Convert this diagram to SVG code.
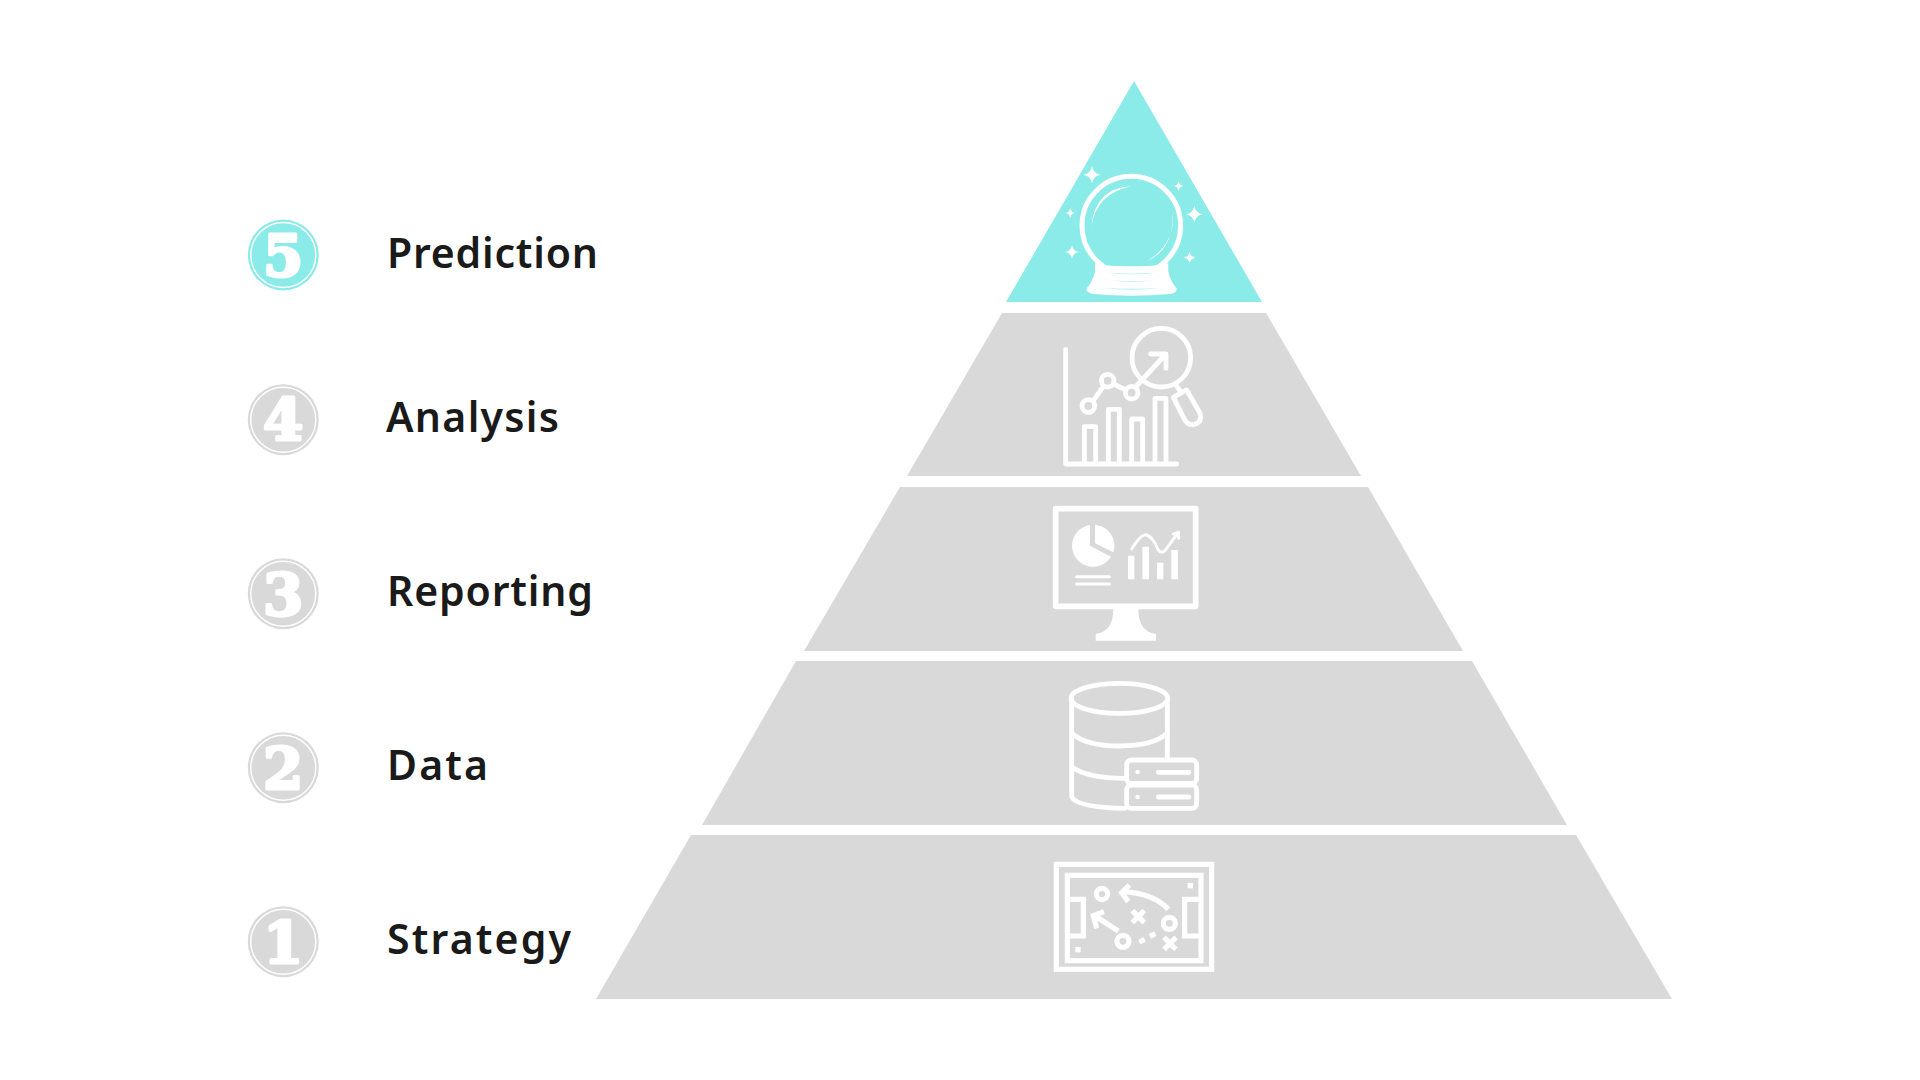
<svg xmlns="http://www.w3.org/2000/svg" width="1920" height="1080" viewBox="0 0 1920 1080">
<style>
.gray{fill:#d9d9d9}
.teal{fill:#8aebe8}
.label{font-family:"Noto Sans","Open Sans",sans-serif;font-weight:600;font-size:41px;fill:#1a1a1a}
.digit{font-family:"DejaVu Serif",serif;font-weight:700;font-size:58px;fill:#fff;stroke:#fff;stroke-width:3;stroke-linejoin:round;text-anchor:middle}
.ring{fill:none;stroke:#fff;stroke-width:1.4}
.ln{fill:none;stroke:#fff;stroke-linecap:round;stroke-linejoin:round}
.sq{fill:none;stroke:#fff;stroke-linejoin:miter}
.w{fill:#fff}
</style>
<defs>
<path id="star" d="M0-1Q.14-.14 1 0Q.14.14 0 1Q-.14.14-1 0Q-.14-.14 0-1Z" fill="#fff"/>
</defs>
<rect width="1920" height="1080" fill="#fff"/>

<g id="layer5">
<polygon class="teal" points="1134,81 1262,302 1006,302"/>
<g transform="translate(980 60) scale(.3333)">
<circle cx="454" cy="497" r="148" fill="none" stroke="#fff" stroke-width="15"/>
<path class="w" d="M345 610Q375 620 455 619Q535 620 565 610V635Q572 665 590 685Q592 700 570 702Q455 712 340 702Q316 698 320 685Q338 665 345 635Z"/>
<path class="teal" d="M380 638Q455 644 530 638Q455 648 380 638ZM385 660Q455 667 525 660Q455 670 385 660ZM365 683Q455 690 545 683Q455 694 365 683Z"/>
<path class="w" d="M453 379Q345 385 334 500Q350 400 453 379ZM577 455Q590 550 498 606Q585 565 577 455Z"/>
<use href="#star" transform="translate(336 344) scale(26)"/>
<use href="#star" transform="translate(596 378) scale(15)"/>
<use href="#star" transform="translate(271 459) scale(15)"/>
<use href="#star" transform="translate(643 463) scale(26)"/>
<use href="#star" transform="translate(276 576) scale(21)"/>
<use href="#star" transform="translate(629 593) scale(17)"/>
</g>
</g>

<g id="layer4">
<polygon class="gray" points="1002,313 1266,313 1361,476 907,476"/>
<g transform="translate(1030 310) scale(.3333)">
<g class="ln" stroke-width="14.5">
<path d="M107 118V462H440M163 455V350H197V455M235 455V298H268V455M305 455V327H338V455M375 455V265H408V455"/>
<circle cx="175" cy="288" r="19"/><circle cx="233" cy="212" r="19"/><circle cx="305" cy="248" r="19"/>
<path d="M190 272L218 232M250 222L288 240M322 225L405 135M362 132H408V175M440 228L452 245"/>
<circle cx="394" cy="143" r="88"/>
<path d="M430 262L470 240L510 310Q518 335 495 343Q475 350 462 325Z"/>
</g>
</g>
</g>

<g id="layer3">
<polygon class="gray" points="900,487 1368,487 1463,651 804,651"/>
<g transform="translate(1030 495) scale(.3333)">
<rect x="77" y="41" width="420" height="293" fill="none" stroke="#fff" stroke-width="17" stroke-linejoin="round"/>
<path class="w" d="M250 342Q250 410 197 417V437H378V417Q325 410 325 342Z"/>
<path class="w" d="M180 90A63 63 0 1 0 243 185L180 152ZM195 89A63 63 0 0 1 250 172L195 145Z"/>
<path class="ln" stroke-width="9" d="M140 245H238M140 267H238M305 162Q335 115 350 120Q368 125 385 165Q397 180 410 160L445 112M430 117L446 112V130"/>
<path class="w" d="M294 182H313V253H294ZM337 155H357V253H337ZM381 203H400V253H381ZM424 165H444V253H424Z"/>
</g>
</g>

<g id="layer2">
<polygon class="gray" points="796,661 1472,661 1567,825 702,825"/>
<g transform="translate(1040 670) scale(.3333)">
<g class="ln" stroke-width="14.5">
<ellipse cx="238" cy="85" rx="145" ry="45"/>
<path d="M95 85V380Q110 412 255 415M382 85V265M95 190Q140 228 238 228Q340 228 382 190M95 290Q140 325 255 325"/>
<rect x="260" y="270" width="210" height="70" rx="14"/>
<rect x="260" y="345" width="210" height="70" rx="14"/>
<path d="M355 307H447M355 381H447"/>
</g>
<circle class="w" cx="293" cy="306" r="7"/><circle class="w" cx="293" cy="381" r="7"/>
</g>
</g>

<g id="layer1">
<polygon class="gray" points="691,835 1576,835 1672,999 596,999"/>
<g transform="translate(1040 850) scale(.3333)">
<g class="sq" stroke-width="15.5">
<rect x="49" y="43" width="466" height="315"/>
<rect x="82" y="76" width="401" height="256"/>
<path d="M82 148H130V258H82M483 148H434V258H483"/>
<circle cx="186" cy="132" r="17"/><circle cx="388" cy="220" r="18"/><circle cx="249" cy="274" r="18"/>
<path d="M277 182L313 218M313 182L277 218M372 262L408 298M408 262L372 298"/>
<path d="M385 178Q340 130 250 125M268 105L245 128L265 155M235 243L165 198M192 185L160 197L170 235"/>
<path d="M298 276L314 268M330 259L346 251"/>
</g>
<rect class="w" x="443" y="99" width="16" height="16"/>
<rect class="w" x="106" y="291" width="16" height="16"/>
</g>
</g>

<g id="badge5"><circle class="teal" cx="283.3" cy="255" r="35.5"/><circle class="ring" cx="283.3" cy="255" r="32.5"/><text class="digit" x="283.3" y="276">5</text></g>
<g id="badge4"><circle class="gray" cx="283.3" cy="419.7" r="35.5"/><circle class="ring" cx="283.3" cy="419.7" r="32.5"/><text class="digit" x="283.3" y="440">4</text></g>
<g id="badge3"><circle class="gray" cx="283.3" cy="593.7" r="35.5"/><circle class="ring" cx="283.3" cy="593.7" r="32.5"/><text class="digit" x="283.3" y="614.7">3</text></g>
<g id="badge2"><circle class="gray" cx="283.3" cy="767.7" r="35.5"/><circle class="ring" cx="283.3" cy="767.7" r="32.5"/><text class="digit" x="283.3" y="788.7">2</text></g>
<g id="badge1"><circle class="gray" cx="283.3" cy="941.7" r="35.5"/><circle class="ring" cx="283.3" cy="941.7" r="32.5"/><text class="digit" x="283.3" y="962.7">1</text></g>

<text class="label" x="387" y="268" textLength="211" lengthAdjust="spacing">Prediction</text>
<text class="label" x="386" y="432" textLength="173" lengthAdjust="spacing">Analysis</text>
<text class="label" x="387" y="606" textLength="206" lengthAdjust="spacing">Reporting</text>
<text class="label" x="387" y="780" textLength="101" lengthAdjust="spacing">Data</text>
<text class="label" x="387" y="954" textLength="184" lengthAdjust="spacing">Strategy</text>
<g id="connectors"/>
</svg>
